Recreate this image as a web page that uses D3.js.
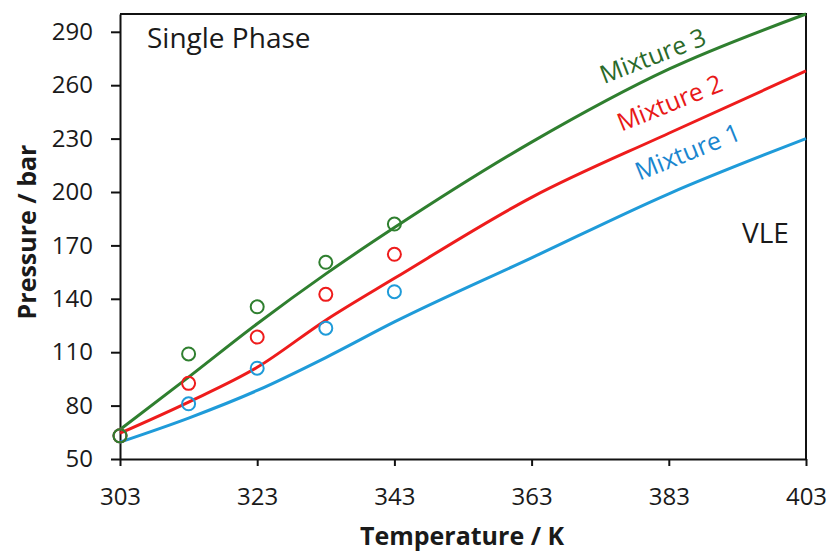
<!DOCTYPE html>
<html>
<head>
<meta charset="utf-8">
<script src="https://cdn.jsdelivr.net/npm/d3@7"></script>
<style>
  body { margin: 0; background: #fff; }
  svg text { font-family: "Open Sans", Lato, sans-serif; }
  .tick text { font-size: 24px; fill: #1a1a1a; font-family: "Open Sans", sans-serif; }
  .unit { font-size: 25px; font-weight: bold; fill: #1a1a1a; }
  .note { font-size: 28px; fill: #1a1a1a; }
</style>
</head>
<body>
<div id="svg-container"></div>
<script>
// data
const temps = [303, 313, 323, 333, 343, 363, 383, 403];
const mix1Line = [59.5, 73, 88.5, 107, 127, 163, 199, 230];
const mix2Line = [64.5, 82, 101.5, 128, 151.5, 197, 233, 268];
const mix3Line = [66.5, 96, 126, 154, 180, 228, 269, 300];

const expTemps = [303, 313, 323, 333, 343];
const mix1Exp = [63, 81, 101, 123.5, 144];
const mix2Exp = [63, 92.5, 118.5, 142.5, 165];
const mix3Exp = [63, 109, 135.5, 160.5, 182];

const xTicks = [303, 323, 343, 363, 383, 403];
const yTicks = [50, 80, 110, 140, 170, 200, 230, 260, 290];

const seriesNames = ["Mixture 1", "Mixture 2", "Mixture 3"];
const lineColors = ["#1f9bd9", "#ee1c1c", "#2f7f2f"];
const labelColors = ["#1a86cf", "#e81818", "#2a6a2a"];

////////////////////////////  Init  ///////////////////////////////
const width = 829, height = 554;
const margin = { top: 14, right: 23, bottom: 95, left: 120 };

const svg = d3.select("#svg-container").append("svg")
  .attr("width", width).attr("height", height);

const xScale = d3.scaleLinear().domain([303, 403]).range([margin.left, width - margin.right]);
const yScale = d3.scaleLinear().domain([50, 300]).range([height - margin.bottom, margin.top]);

const xAxis = d3.axisBottom(xScale).tickValues(xTicks).tickSize(7).tickSizeOuter(0).tickPadding(22);
const yAxis = d3.axisLeft(yScale).tickValues(yTicks).tickSize(9).tickSizeOuter(0).tickPadding(18);

// frame (top + right)
svg.append("path")
  .attr("d", `M${xScale(303)},${yScale(300)}H${xScale(403)}V${yScale(50)}`)
  .attr("fill", "none").attr("stroke", "#111").attr("stroke-width", 2);

const gx = svg.append("g")
  .attr("transform", `translate(0,${yScale(50)})`)
  .call(xAxis);
const gy = svg.append("g")
  .attr("transform", `translate(${xScale(303)},0)`)
  .call(yAxis);
[gx, gy].forEach((g) => {
  g.attr("font-family", null).attr("font-size", null);
  g.selectAll("path, line").attr("stroke", "#111").attr("stroke-width", 2);
});

// lines
const lineGen = d3.line()
  .x((d) => xScale(d[0]))
  .y((d) => yScale(d[1]))
  .curve(d3.curveMonotoneX);

const lines = [mix1Line, mix2Line, mix3Line];
lines.forEach((vals, i) => {
  svg.append("path")
    .datum(temps.map((t, j) => [t, vals[j]]))
    .attr("d", lineGen)
    .attr("fill", "none")
    .attr("stroke", lineColors[i])
    .attr("stroke-width", 3);
});

// experimental points
const exps = [mix1Exp, mix2Exp, mix3Exp];
exps.forEach((vals, i) => {
  svg.selectAll(".exp" + i)
    .data(expTemps.map((t, j) => [t, vals[j]]))
    .enter()
    .append("circle")
    .attr("cx", (d) => xScale(d[0]))
    .attr("cy", (d) => yScale(d[1]))
    .attr("r", 6.5)
    .attr("fill", "none")
    .attr("stroke", lineColors[i])
    .attr("stroke-width", 2);
});

// series labels along the curves
const labelPos = [[691, 160], [673, 111], [656, 64]];
const labelAngle = [-22, -22, -21];
seriesNames.forEach((name, i) => {
  svg.append("text")
    .attr("transform", `translate(${labelPos[i][0]},${labelPos[i][1]}) rotate(${labelAngle[i]})`)
    .attr("text-anchor", "middle")
    .attr("fill", labelColors[i])
    .style("font-size", "25px")
    .text(name);
});

// region notes
svg.append("text").attr("class", "note").attr("x", 147).attr("y", 48).text("Single Phase");
svg.append("text").attr("class", "note").attr("x", 742).attr("y", 243).text("VLE");

// units
svg.append("text")
  .attr("class", "unit")
  .attr("text-anchor", "middle")
  .attr("transform", `translate(462, 545)`)
  .text("Temperature / K");

svg.append("text")
  .attr("class", "unit")
  .attr("text-anchor", "middle")
  .attr("transform", `translate(36, 232) rotate(-90)`)
  .text("Pressure / bar");
</script>
</body>
</html>
